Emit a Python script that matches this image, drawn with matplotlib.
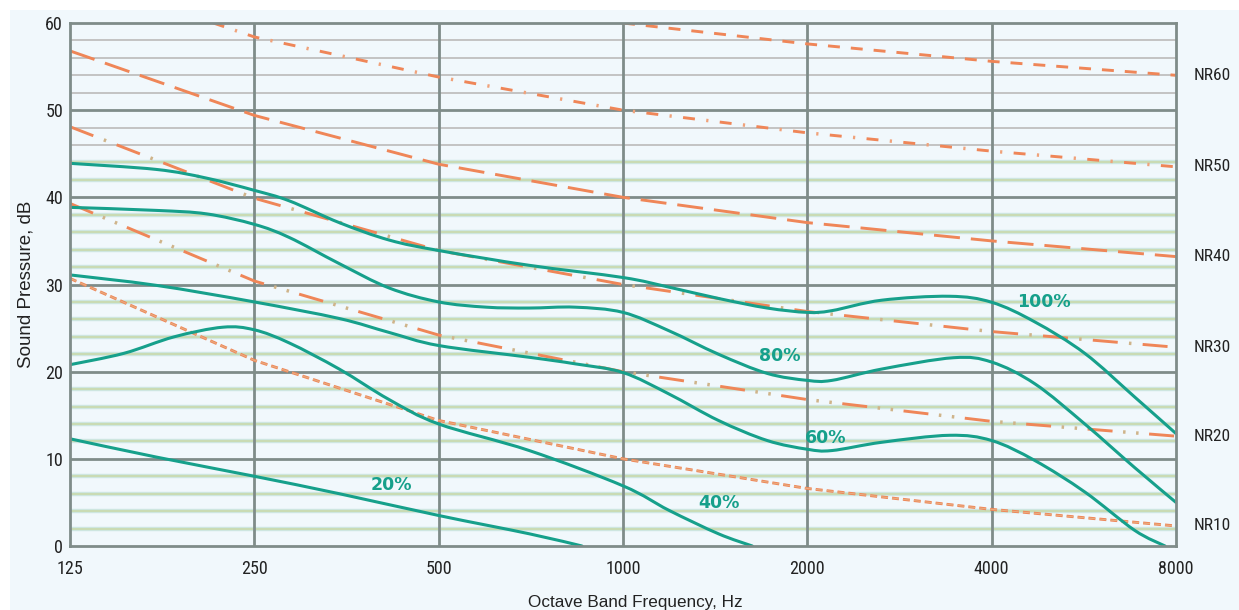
import matplotlib
matplotlib.use("Agg")
import matplotlib.pyplot as plt
import numpy as np
from matplotlib.patches import Rectangle, PathPatch
from matplotlib.path import Path

plt.rcParams["lines.scale_dashes"] = False

# ---------------- data ----------------
bands = [125, 250, 500, 1000, 2000, 4000, 8000]
band_labels = ["125", "250", "500", "1000", "2000", "4000", "8000"]

nr10 = [30.7, 21.3, 14.4, 10.0, 6.6, 4.2, 2.3]
nr20 = [39.3, 30.4, 24.2, 20.0, 16.8, 14.3, 12.6]
nr30 = [48.1, 39.9, 33.9, 30.0, 26.9, 24.6, 22.8]
nr40 = [56.8, 49.4, 43.8, 40.0, 37.1, 35.0, 33.2]
nr50 = [65.6, 58.4, 53.8, 50.0, 47.4, 45.3, 43.5]
nr60 = [74.3, 67.8, 63.2, 60.0, 57.6, 55.6, 54.0]
nr_names = ["NR10", "NR20", "NR30", "NR40", "NR50", "NR60"]

f100 = [125, 173, 209, 250, 285, 344, 415, 500, 703, 1000, 1188, 1432, 1720, 2000,
        2193, 2646, 3414, 4000, 4707, 5677, 6847, 8000]
v100 = [43.9, 43.2, 42.2, 40.8, 39.6, 37.1, 35.1, 33.9, 32.2, 30.8, 29.7, 28.4, 27.3, 26.8,
        27.0, 28.2, 28.65, 27.96, 25.7, 22.1, 17.1, 12.9]

f80 = [125, 173, 209, 250, 285, 344, 415, 500, 598, 703, 835, 1000, 1188, 1432, 1720,
       2000, 2193, 2646, 3465, 4000, 4707, 5677, 6847, 8000]
v80 = [38.85, 38.5, 38.1, 36.9, 35.4, 32.4, 29.6, 28.0, 27.4, 27.3, 27.4, 26.8, 24.7, 22.0, 19.8,
       19.0, 19.0, 20.3, 21.6, 21.1, 18.6, 14.0, 9.0, 5.0]

f60 = [125, 173, 250, 344, 415, 500, 703, 835, 1000, 1188, 1432, 1720, 2000, 2193,
       2646, 3414, 4000, 4707, 5677, 6847, 7677]
v60 = [31.1, 29.9, 28.0, 26.1, 24.5, 23.0, 21.65, 20.9, 19.9, 17.45, 14.4, 12.1, 11.1, 10.95,
       11.9, 12.7, 12.1, 9.8, 6.2, 1.8, 0.0]

f40 = [125, 153, 185, 222, 250, 285, 344, 415, 500, 703, 1000, 1188, 1432, 1626]
v40 = [20.8, 22.1, 24.0, 25.1, 24.8, 23.3, 20.3, 16.8, 14.0, 10.95, 6.9, 4.1, 1.4, 0.0]

f20 = [125, 173, 250, 344, 500, 703, 857]
v20 = [12.3, 10.2, 8.0, 6.0, 3.5, 1.4, 0.0]

pct_labels = ["100%", "80%", "60%", "40%", "20%"]
pct_x = [4860, 1806, 2144, 1433, 418]
pct_y = [28.0, 21.8, 12.4, 4.9, 7.0]

# ---------------- style ----------------
BG = "#f1f8fc"
GRID_DARK = "#7f8c89"
TEAL = "#16a08b"
ORANGE = "#ef8658"
TAN = "#cfb48a"
NUM_FONT = ["Liberation Sans Narrow", "DejaVu Sans Condensed", "Roboto Condensed",
            "Liberation Sans", "DejaVu Sans"]
LAB_FONT = ["Liberation Sans", "DejaVu Sans"]

fig = plt.figure(figsize=(12.39, 6.10), dpi=100, facecolor="white")
bgrect = Rectangle((10 / 1239, 0), 1, 1 - 10 / 610, transform=fig.transFigure,
                   facecolor=BG, edgecolor="none", zorder=-10)
fig.add_artist(bgrect)
ax = fig.add_axes([70 / 1239, 1 - 546 / 610, (1176 - 70) / 1239, (546 - 23) / 610])
ax.set_zorder(1)
ax.set_facecolor(BG)
ax.set_xscale("log", base=2)
ax.set_xlim(125, 8000)
ax.set_ylim(0, 60)

# minor horizontal grid
for yv in np.arange(2, 60, 2):
    if yv % 10 == 0:
        continue
    if yv <= 44:
        ax.axhline(yv, color="#cfe8e6", lw=3.2, zorder=1)
        ax.axhline(yv, color="#c9dbb4", lw=1.6, zorder=1.1)
    else:
        ax.axhline(yv, color="#c3c3c3", lw=1.4, zorder=1)
for yv in range(10, 60, 10):
    ax.axhline(yv, color=GRID_DARK, lw=2, zorder=1.5)
for fv in bands[1:-1]:
    ax.axvline(fv, color=GRID_DARK, lw=2, zorder=1.5)

for sp in ax.spines.values():
    sp.set_color(GRID_DARK)
    sp.set_linewidth(2)
    sp.set_zorder(5)

# NR curves (dash lengths in points)
def nr_line(vals, dash, gap_total, dots=None, dot_color=TAN):
    ax.plot(bands, vals, color=ORANGE, lw=2.1, linestyle=(0, (dash, gap_total)),
            dash_capstyle="butt", zorder=3)
    if dots is not None:
        ax.plot(bands, vals, color=dot_color, lw=2.5, linestyle=dots,
                dash_capstyle="butt", zorder=3.1)

nr_line(nr10, 5.0, 2.9)
ax.plot(bands, nr10, color="#e8ad80", lw=0.8, linestyle=(0, (5.0, 2.9)), zorder=3.2)
nr_line(nr20, 18.0, 26.4, (18.8, (1.8, 7.6, 1.8, 33.2)))
nr_line(nr30, 18.0, 18.0, (9.9, (1.8, 34.2)))
nr_line(nr40, 18.7, 7.9)
nr_line(nr50, 8.6, 18.0, (9.8, (1.6, 25.0)), dot_color="#f0a27a")
nr_line(nr60, 8.6, 7.9)


# percentage curves: smooth curve through the read points (Catmull-Rom in display space)
def smooth_curve(xs, ys, **kw):
    pts = ax.transData.transform(np.column_stack([xs, ys]))
    n = len(pts)
    verts = [pts[0]]
    codes = [Path.MOVETO]
    for i in range(n - 1):
        p0 = pts[i - 1] if i > 0 else pts[i]
        p1 = pts[i]
        p2 = pts[i + 1]
        p3 = pts[i + 2] if i + 2 < n else pts[i + 1]
        verts += [p1 + (p2 - p0) / 6.0, p2 - (p3 - p1) / 6.0, p2]
        codes += [Path.CURVE4] * 3
    dverts = ax.transData.inverted().transform(np.array(verts))
    patch = PathPatch(Path(dverts, codes), fill=False, transform=ax.transData, **kw)
    ax.add_patch(patch)


for fx, vy in [(f100, v100), (f80, v80), (f60, v60), (f40, v40), (f20, v20)]:
    smooth_curve(fx, vy, edgecolor=TEAL, lw=2.2, zorder=4, capstyle="round")

for lab, xx, yy in zip(pct_labels, pct_x, pct_y):
    ax.text(xx, yy, lab, color=TEAL, fontsize=12.5, fontweight="bold",
            family=["DejaVu Sans"], ha="center", va="center", zorder=6)

# NR labels on the right
for name, vals in zip(nr_names, [nr10, nr20, nr30, nr40, nr50, nr60]):
    ax.annotate(name, xy=(8000, vals[-1]), xytext=(13, 0), textcoords="offset points",
                ha="left", va="center", fontsize=12.5, family=NUM_FONT, color="#222222",
                annotation_clip=False)

# ticks
ax.set_xticks(bands)
ax.set_xticklabels(band_labels)
ax.minorticks_off()
ax.set_yticks(range(0, 61, 10))
ax.tick_params(axis="both", length=0, labelsize=13, colors="#222222")
ax.tick_params(axis="x", pad=10)
ax.tick_params(axis="y", pad=5)
for lbl in ax.get_xticklabels() + ax.get_yticklabels():
    lbl.set_family(NUM_FONT)

ax.set_ylabel("Sound Pressure, dB", fontsize=13.5, family=LAB_FONT, color="#222222", labelpad=8)
fig.text(635 / 1239, 1 - 603 / 610, "Octave Band Frequency, Hz", ha="center", va="center",
         fontsize=12.3, family=LAB_FONT, color="#222222")

fig.savefig("out.png", dpi=100, facecolor=fig.get_facecolor())
